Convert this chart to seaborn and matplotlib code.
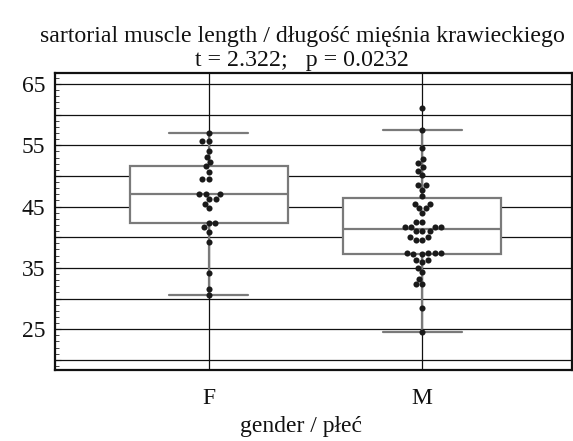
import numpy as np
import pandas as pd
import seaborn as sns
import matplotlib.pyplot as plt
from matplotlib.ticker import MultipleLocator

groups = ["F", "M"]
f_values = [30.6, 31.6, 34.2, 39.3, 40.9, 41.6, 42.3, 42.3, 44.7, 45.5,
            46.2, 46.2, 47.0, 47.0, 47.0, 49.5, 49.5, 50.7, 51.6, 52.3,
            53.1, 54.1, 55.7, 55.7, 57.0]
m_values = [24.6, 28.4, 32.3, 32.3, 33.2, 34.3, 35.0, 35.9, 36.3, 36.3,
            37.2, 37.2, 37.5, 37.5, 37.5, 37.5, 39.6, 39.6, 40.1, 40.1,
            41.0, 41.0, 41.0, 41.7, 41.7, 41.7, 41.7, 42.5, 42.5, 43.9,
            44.8, 44.8, 45.5, 45.5, 46.7, 47.7, 48.5, 48.5, 50.1, 50.8,
            51.4, 52.1, 52.7, 54.6, 57.5, 61.0]
y_ticks = [20, 25, 30, 35, 40, 45, 50, 55, 60, 65]
y_tick_labels = ["", "25", "", "35", "", "45", "", "55", "", "65"]
title_text = "sartorial muscle length / długość mięśnia krawieckiego\nt = 2.322;   p = 0.0232"
x_label = "gender / płeć"

df = pd.DataFrame({
    "gender": ["F"] * len(f_values) + ["M"] * len(m_values),
    "value": f_values + m_values,
})

sns.set_theme(style="white")
plt.rcParams['font.family'] = ['Liberation Serif', 'DejaVu Serif']

fig = plt.figure(figsize=(5.73, 4.41), dpi=100)
ax = fig.add_axes([55 / 573, 1 - 370 / 441, (571.5 - 55) / 573, (370 - 72.7) / 441])
ax.set_axisbelow(True)

sns.boxplot(data=df, x="gender", y="value", order=groups, width=0.74,
            whis=1.5, showfliers=False, color="white", linecolor="#7a7a7a",
            linewidth=1.6, ax=ax)
sns.swarmplot(data=df, x="gender", y="value", order=groups, color="#1a1a1a",
              size=4.4, ax=ax)

ax.set_xlim(-0.72, 1.70)
ax.set_ylim(18.34, 66.84)
ax.set_yticks(y_ticks)
ax.set_yticklabels(y_tick_labels, fontsize=17)
ax.yaxis.set_minor_locator(MultipleLocator(1))
ax.tick_params(axis="y", which="major", direction="in", length=4, width=0.8,
               left=True, right=False, pad=7, colors="#111")
ax.tick_params(axis="y", which="minor", direction="in", length=3, width=0.6,
               left=True, right=False)
ax.tick_params(axis="x", length=0, pad=13, labelsize=17, colors="#111")
ax.grid(True, which="major", color="#111111", linewidth=0.9)
for s in ax.spines.values():
    s.set_color("#111111")
    s.set_linewidth(1.6)

ax.set_xlabel(x_label, fontsize=17, labelpad=5, color="#111",
              x=(301 - 55) / (571.5 - 55))
ax.set_ylabel("")
ax.set_title(title_text, fontsize=17.2, pad=5, linespacing=1.15, color="#111",
             x=(302 - 55) / (571.5 - 55), ha="center", multialignment="center")

fig.savefig("out.png", dpi=100)
